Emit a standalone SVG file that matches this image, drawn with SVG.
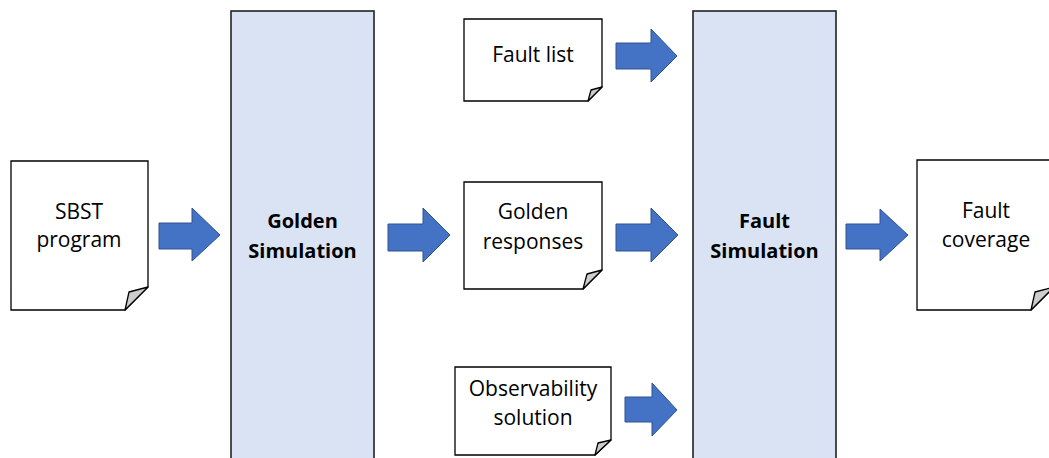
<svg xmlns="http://www.w3.org/2000/svg" width="1049" height="458" viewBox="0 0 1049 458">
<style>
.doc{fill:#fff;stroke:#000;stroke-width:1.3}
.fold{fill:#cdcdcd;stroke:#000;stroke-width:1.3;stroke-linejoin:round}
.proc{fill:#dae3f3;stroke:#222;stroke-width:1.6}
.arr{fill:#4472c4;stroke:#2f528f;stroke-width:1}
.t{font-family:"Open Sans","Liberation Sans",sans-serif;font-size:21px;fill:#000;text-anchor:middle}
.b{font-weight:bold;font-size:20px}
</style>
<rect width="1049" height="458" fill="#fff"/>
<g id="sbst">
<path class="doc" d="M11,161 H148 V287 L125,310 H11 Z"/>
<path class="fold" d="M125,310 L148,287 L129,292 Z"/>
<text class="t" x="79" y="219">SBST</text>
<text class="t" x="79" y="247">program</text>
</g>
<g id="golden-sim">
<rect class="proc" x="231" y="11" width="143" height="460"/>
<text class="t b" x="302.5" y="228">Golden</text>
<text class="t b" x="302.5" y="258">Simulation</text>
</g>
<g id="fault-list">
<path class="doc" d="M464,19 H602 V87 L588,101 H464 Z"/>
<path class="fold" d="M588,101 L602,87 L591,90 Z"/>
<text class="t" x="533" y="62">Fault list</text>
</g>
<g id="golden-resp">
<path class="doc" d="M464,182 H602 V270 L583,289 H464 Z"/>
<path class="fold" d="M583,289 L602,270 L587,274 Z"/>
<text class="t" x="533" y="219">Golden</text>
<text class="t" x="533" y="249">responses</text>
</g>
<g id="obs">
<path class="doc" d="M455,367 H611 V440 L595,455 H455 Z"/>
<path class="fold" d="M595,455 L611,440 L598,443 Z"/>
<text class="t" x="533" y="396">Observability</text>
<text class="t" x="533" y="425">solution</text>
</g>
<g id="fault-sim">
<rect class="proc" x="693" y="11" width="143" height="460"/>
<text class="t b" x="764.5" y="228">Fault</text>
<text class="t b" x="764.5" y="258">Simulation</text>
</g>
<g id="fault-cov">
<path class="doc" d="M917,160 H1054 V287 L1031,310 H917 Z"/>
<path class="fold" d="M1031,310 L1054,287 L1035,292 Z"/>
<text class="t" x="986" y="218">Fault</text>
<text class="t" x="986" y="247">coverage</text>
</g>
<g id="connectors">
<path class="arr" d="M159,223 H192 V208 L220,235 L192,261 V249 H159 Z"/>
<path class="arr" d="M388,224 H423 V208 L450,235 L423,262 V251 H388 Z"/>
<path class="arr" d="M616,43 H651 V29 L677,56 L651,82 V69 H616 Z"/>
<path class="arr" d="M616,224 H651 V208 L678,235 L651,262 V251 H616 Z"/>
<path class="arr" d="M625,397 H652 V383 L677,410 L652,436 V422 H625 Z"/>
<path class="arr" d="M846,224 H880 V209 L908,235 L880,261 V249 H846 Z"/>
</g>
</svg>
